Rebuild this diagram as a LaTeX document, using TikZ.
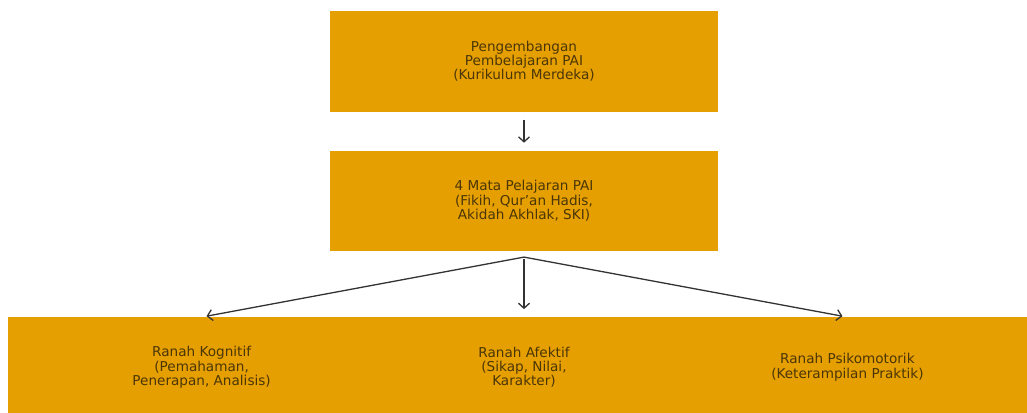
\documentclass[tikz,border=0pt]{standalone}
\usepackage{fontspec}
\setmainfont{DejaVu Sans}
\usetikzlibrary{arrows.meta, positioning}
\definecolor{boxorange}{HTML}{E69F00}
\definecolor{boxtext}{RGB}{74,54,8}
\tikzset{
  block/.style={rectangle, minimum width=388pt, minimum height=100pt, inner sep=0pt, align=center, fill=boxorange, text=boxtext, font=\fontsize{13.6}{14.2}\selectfont},
  arrow/.style={line width=1.3pt, draw=black!80, -{Straight Barb[length=5pt,width=11pt]}, shorten <=8pt, shorten >=8pt},
  branch/.style={arrow, shorten <=0pt, shorten >=5pt}
}

\begin{document}
\begin{tikzpicture}[x=1pt, y=1pt, node distance=39pt]
    \useasboundingbox (0,0) rectangle (1027,-412);
    \node (pengembangan) [block] at (524,-61.5) {Pengembangan\\Pembelajaran PAI\\(Kurikulum Merdeka)};
    \node (mapel) [block, below=of pengembangan] {4 Mata Pelajaran PAI\\(Fikih, Qur’an Hadis,\\Akidah Akhlak, SKI)};

    % three domains, boxes overlap into one band
    \node (afektif) [block, below=66pt of mapel] {Ranah Afektif\\(Sikap, Nilai,\\Karakter)};
    \node (kognitif) [block, left=-66pt of afektif] {Ranah Kognitif\\(Pemahaman,\\Penerapan, Analisis)};
    \node (psikomotorik) [block, right=-65pt of afektif] {Ranah Psikomotorik\\(Keterampilan Praktik)};

    % arrows
    \coordinate (fork) at ([yshift=-6pt]mapel.south);
    \draw[arrow] (pengembangan) -- (mapel);
    \draw[branch] (fork) -- (kognitif.north);
    \draw[arrow] (mapel.south) -- (afektif.north);
    \draw[branch] (fork) -- (psikomotorik.north);
\end{tikzpicture}
\end{document}
